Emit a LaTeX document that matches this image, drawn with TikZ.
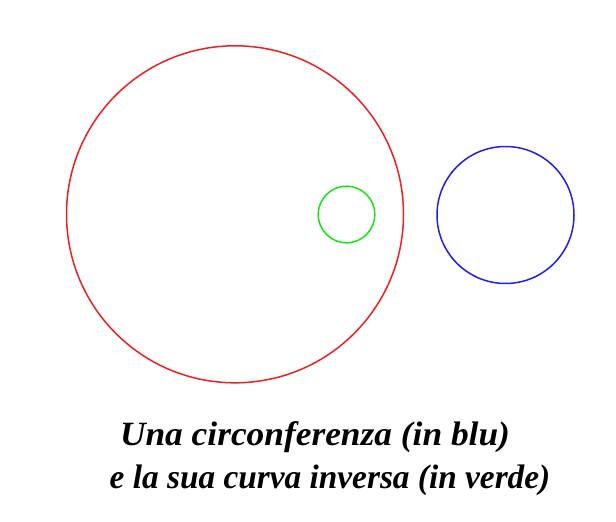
\documentclass[tikz,border=0pt]{standalone}
\usepackage{fontspec}
\setmainfont{Liberation Serif}
\usepackage{xcolor}
\usepackage{tikz}
\definecolor{circred}{RGB}{240, 30, 30}
\definecolor{circgreen}{RGB}{20, 230, 20}
\definecolor{circblue}{RGB}{30, 30, 245}

\begin{document}
\begin{tikzpicture}[x=1pt, y=-1pt, every node/.style={font=\fontsize{34}{40}\selectfont\bfseries\itshape}]

\useasboundingbox (0,0) rectangle (616,522);

% Circles
\draw[circred, line width=1.5pt] (235,214.3) circle[radius=168.5];
\draw[circgreen, line width=1.5pt] (346.5,214.5) circle[radius=28.3];
\draw[circblue, line width=1.5pt] (505.5,215) circle[radius=68.5];

% Caption
\node[anchor=base, xscale=1.04] at (315,445) (line1) {Una circonferenza (in blu)};
\node[anchor=base, xscale=0.98] at (330,488) (line2) {e la sua curva inversa (in verde)};

\end{tikzpicture}
\end{document}
